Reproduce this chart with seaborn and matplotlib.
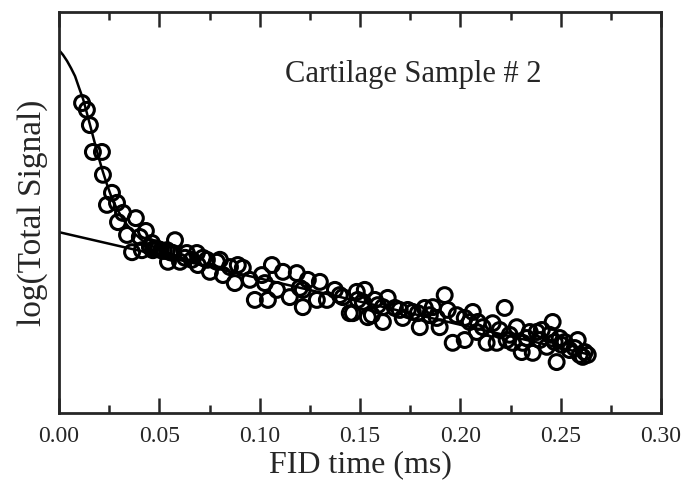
import matplotlib
matplotlib.use("Agg")
import matplotlib.pyplot as plt
from matplotlib.ticker import MultipleLocator
import pandas as pd
import seaborn as sns

# measured FID points (time in ms, log signal in arbitrary units)
fid_time = [0.0115, 0.0139, 0.0154, 0.0169, 0.0214, 0.0219, 0.0264, 0.0239, 0.0289, 0.0319,
            0.0294, 0.0383, 0.0339, 0.0433, 0.0364, 0.0413, 0.0463, 0.0403, 0.0468, 0.0578,
            0.0453, 0.0478, 0.0493, 0.0508, 0.0523, 0.0538, 0.0553, 0.0568,
            0.0543, 0.0603, 0.0637, 0.0687, 0.0737, 0.0787, 0.0752, 0.0817, 0.0717, 0.0692,
            0.0802, 0.0852, 0.0891, 0.0916, 0.0876, 0.0951, 0.0976, 0.1041, 0.1061, 0.1011,
            0.1026, 0.1116, 0.1086, 0.1185, 0.1150, 0.1215, 0.1240, 0.1215, 0.1200, 0.1300,
            0.1285, 0.1335, 0.1375, 0.1399, 0.1414, 0.1449, 0.1484, 0.1524, 0.1514, 0.1539,
            0.1464, 0.1574, 0.1559, 0.1614, 0.1638, 0.1614, 0.1698, 0.1713, 0.1763, 0.1798,
            0.1823, 0.1863, 0.1848, 0.1897, 0.1922, 0.1937, 0.1962, 0.1982, 0.2022, 0.2022,
            0.2062, 0.2087, 0.2082, 0.2112, 0.2131, 0.2161, 0.2181, 0.2221, 0.2231, 0.2281,
            0.2261, 0.2311, 0.2306, 0.2346, 0.2361, 0.2381, 0.2406, 0.2431, 0.2445, 0.2460,
            0.2480, 0.2495, 0.2520, 0.2545, 0.2585, 0.2595, 0.2610, 0.2635,
            0.2047, 0.2196, 0.2246, 0.2331, 0.2396, 0.2470, 0.2505, 0.2570, 0.2620,
            0.1489, 0.1589, 0.1674, 0.1738, 0.1788, 0.1883, 0.0628, 0.0662]
log_signal = [0.773, 0.756, 0.718, 0.651, 0.651, 0.594, 0.549, 0.519, 0.524, 0.499,
              0.476, 0.486, 0.444, 0.454, 0.401, 0.406, 0.424, 0.439, 0.406, 0.431,
              0.414, 0.411, 0.409, 0.406, 0.404, 0.406, 0.401, 0.399,
              0.377, 0.377, 0.399, 0.399, 0.382, 0.377, 0.352, 0.344, 0.387, 0.369,
              0.382, 0.364, 0.369, 0.362, 0.324, 0.332, 0.282, 0.282, 0.369, 0.344,
              0.324, 0.352, 0.307, 0.349, 0.289, 0.307, 0.332, 0.264, 0.312, 0.327,
              0.282, 0.282, 0.307, 0.294, 0.289, 0.249, 0.302, 0.307, 0.277, 0.239,
              0.249, 0.282, 0.244, 0.227, 0.287, 0.264, 0.257, 0.237, 0.252, 0.214,
              0.262, 0.264, 0.244, 0.214, 0.294, 0.257, 0.175, 0.244, 0.182, 0.237,
              0.252, 0.227, 0.202, 0.214, 0.175, 0.224, 0.175, 0.262, 0.182, 0.214,
              0.175, 0.175, 0.152, 0.202, 0.150, 0.202, 0.207, 0.165, 0.195, 0.227,
              0.127, 0.187, 0.177, 0.157, 0.182, 0.145, 0.140, 0.145,
              0.227, 0.207, 0.195, 0.187, 0.182, 0.177, 0.170, 0.162, 0.152,
              0.282, 0.269, 0.262, 0.257, 0.249, 0.237, 0.387, 0.382]

# two-component fit
fit_time = [0.0, 0.0020, 0.0040, 0.0060, 0.0080, 0.0100, 0.0120, 0.0139, 0.0159, 0.0179,
            0.0199, 0.0219, 0.0239, 0.0259, 0.0284, 0.0309, 0.0339, 0.0374, 0.0413, 0.0463,
            0.0528, 0.0603, 0.0703]
fit_total = [0.905, 0.893, 0.878, 0.860, 0.840, 0.811, 0.783, 0.748, 0.710, 0.672,
             0.635, 0.601, 0.570, 0.542, 0.514, 0.491, 0.469, 0.449, 0.431, 0.416,
             0.403, 0.388, 0.372]
slow_time = [0.0, 0.265]
slow_fit = [0.451, 0.145]

points = pd.DataFrame({'FID time (ms)': fid_time, 'log(Total Signal)': log_signal})

sns.set_style("ticks")
plt.rcParams['font.family'] = ['Liberation Serif', 'DejaVu Serif']

fig = plt.figure(figsize=(6.82, 4.87), dpi=100)
ax = fig.add_axes([59 / 682, 1 - 413 / 487, 602 / 682, 401 / 487])

sns.lineplot(x=fit_time, y=fit_total, ax=ax, color='black', linewidth=1.8,
             sort=False, estimator=None, zorder=2)
sns.lineplot(x=slow_time, y=slow_fit, ax=ax, color='black', linewidth=1.8,
             sort=False, estimator=None, zorder=2)
sns.scatterplot(data=points, x='FID time (ms)', y='log(Total Signal)', ax=ax,
                marker='o', s=115, linewidth=2.2, zorder=3)
ax.collections[-1].set_facecolor('none')
ax.collections[-1].set_edgecolor('black')

ax.set_xlim(0, 0.30)
ax.set_ylim(0, 1)
ax.xaxis.set_major_locator(MultipleLocator(0.05))
ax.xaxis.set_minor_locator(MultipleLocator(0.025))
ax.xaxis.set_major_formatter(plt.FormatStrFormatter('%.2f'))
ax.set_yticks([])
ax.tick_params(axis='x', which='major', direction='in', top=True, length=11, width=1.8,
               labelsize=17, pad=9)
ax.tick_params(axis='x', which='minor', direction='in', top=True, length=5.5, width=1.8)
for sp in ax.spines.values():
    sp.set_visible(True)
    sp.set_linewidth(2.0)

ax.set_xlabel('FID time (ms)', fontsize=23, labelpad=3)
ax.set_ylabel('log(Total Signal)', fontsize=24, labelpad=8)
ax.text(0.1764, 0.843, 'Cartilage Sample # 2', fontsize=22, ha='center', va='center')

fig.savefig('out.png', dpi=100)
